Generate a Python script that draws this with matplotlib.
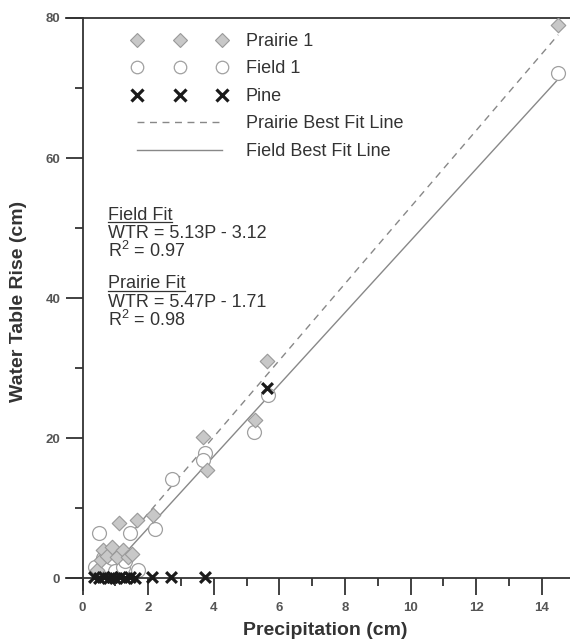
import numpy as np
import matplotlib
matplotlib.use("Agg")
import matplotlib.pyplot as plt
from matplotlib.lines import Line2D
from matplotlib.ticker import MultipleLocator

plt.rcParams['font.family'] = ['Liberation Sans', 'DejaVu Sans']
plt.rcParams['mathtext.fontset'] = 'custom'
plt.rcParams['mathtext.rm'] = 'Liberation Sans'

# Data (precipitation cm, water table rise cm)
prairie_p = [0.45, 0.55, 0.62, 0.75, 0.9, 1.05, 1.1, 1.23, 1.38, 1.5, 1.66, 2.15, 3.67, 3.79, 5.26, 5.62, 14.5]
prairie_w = [1.2, 2.6, 4.0, 3.2, 4.4, 3.0, 7.8, 4.0, 3.0, 3.5, 8.3, 9.0, 20.1, 15.4, 22.6, 31.0, 79.0]

field_p = [0.38, 0.5, 0.62, 0.75, 0.9, 1.0, 1.23, 1.3, 1.44, 1.69, 2.2, 2.72, 3.73, 3.68, 5.22, 5.65, 14.5]
field_w = [1.6, 6.4, 2.9, 1.8, 2.9, 1.0, 1.6, 2.5, 6.4, 1.2, 7.0, 14.2, 17.8, 16.9, 20.9, 26.2, 72.2]

pine_p = [0.35, 0.5, 0.65, 0.8, 0.9, 1.0, 1.15, 1.3, 1.45, 1.6, 2.12, 2.7, 3.73, 5.62]
pine_w = [0.1, 0.0, 0.1, 0.0, 0.1, 0.0, 0.1, 0.0, 0.1, 0.0, 0.1, 0.1, 0.2, 27.1]

# best fit lines
prairie_slope, prairie_int = 5.47, -1.71
field_slope, field_int = 5.13, -3.12
prairie_range = [1.35, 14.5]
field_range = [1.2, 14.5]

fig = plt.figure(figsize=(5.7, 6.42), dpi=100)
ax = fig.add_axes([0.116, 0.081, 0.884, 0.891])

axis_col = '#333333'
line_col = '#888888'
text_col = '#333333'

px = np.array(prairie_range)
ax.plot(px, prairie_slope * px + prairie_int, ls=(0, (5, 4)), color=line_col, lw=1.0, zorder=1)
fx = np.array(field_range)
ax.plot(fx, field_slope * fx + field_int, ls='-', color=line_col, lw=1.0, zorder=1)

ax.scatter(prairie_p, prairie_w, marker='D', s=55, facecolor='#c8c8c8', edgecolor='#999999', linewidth=0.8, zorder=3)
ax.scatter(field_p, field_w, marker='o', s=100, facecolor='white', edgecolor='#a0a0a0', linewidth=0.9, zorder=2)
ax.scatter(pine_p, pine_w, marker='x', s=60, color='#1a1a1a', linewidth=2.3, zorder=4)

ax.set_xlim(-0.5, 14.86)
ax.set_ylim(-1.7, 80)

ax.spines['left'].set_position(('data', 0))
ax.spines['bottom'].set_position(('data', 0))
ax.spines['right'].set_visible(False)
for s in ['left', 'bottom', 'top']:
    ax.spines[s].set_color(axis_col)
    ax.spines[s].set_linewidth(1.3)
ax.spines['left'].set_bounds(-1.7, 80)

ax.xaxis.set_major_locator(MultipleLocator(2))
ax.xaxis.set_minor_locator(MultipleLocator(1))
ax.yaxis.set_major_locator(MultipleLocator(20))
ax.yaxis.set_minor_locator(MultipleLocator(10))
ax.tick_params(which='major', direction='out', length=12, width=1.3, color=axis_col,
               labelsize=9.5, labelcolor='#555555', pad=4)
ax.tick_params(which='minor', direction='out', length=6, width=1.3, color=axis_col)
ax.tick_params(axis='x', which='major', pad=5)
for lab in ax.get_xticklabels() + ax.get_yticklabels():
    lab.set_fontweight('bold')

fig.text(0.57, 0.018, 'Precipitation (cm)', ha='center', va='center',
         fontsize=14, fontweight='bold', color=text_col)
fig.text(0.032, 0.53, 'Water Table Rise (cm)', ha='center', va='center', rotation=90,
         fontsize=14, fontweight='bold', color=text_col)

# legend
handles = [
    Line2D([], [], ls='none', marker='D', ms=7, mfc='#c8c8c8', mec='#999999', mew=0.8),
    Line2D([], [], ls='none', marker='o', ms=9, mfc='white', mec='#a0a0a0', mew=0.9),
    Line2D([], [], ls='none', marker='x', ms=8, color='#1a1a1a', mew=2.3),
    Line2D([], [], ls=(0, (5, 4)), color=line_col, lw=1.0),
    Line2D([], [], ls='-', color=line_col, lw=1.0),
]
labels = ['Prairie 1', 'Field 1', 'Pine', 'Prairie Best Fit Line', 'Field Best Fit Line']
ax.legend(handles, labels, loc='upper left', bbox_to_anchor=(132 / 570, 1 - 33 / 642),
          bbox_transform=fig.transFigure, frameon=False, numpoints=3,
          handlelength=5.3, handletextpad=1.0, labelspacing=0.58, fontsize=13,
          borderpad=0, borderaxespad=0, labelcolor=text_col)

# fit annotations (baseline positions)
txt_kw = dict(fontsize=13, color=text_col, va='baseline', ha='left')
tx = 0.77
t1 = ax.text(tx, 51.2, 'Field Fit', **txt_kw)
ax.text(tx, 48.6, 'WTR = 5.13P - 3.12', **txt_kw)
ax.text(tx, 45.9, 'R$^{2}$ = 0.97', **txt_kw)
t2 = ax.text(tx, 41.4, 'Prairie Fit', **txt_kw)
ax.text(tx, 38.7, 'WTR = 5.47P - 1.71', **txt_kw)
ax.text(tx, 36.0, 'R$^{2}$ = 0.98', **txt_kw)

# underline the two headings
fig.canvas.draw()
r = fig.canvas.get_renderer()
for t in (t1, t2):
    bb = t.get_window_extent(r)
    _, yb = ax.transData.transform((tx, t.get_position()[1]))
    yl = yb - 2.5
    fig.add_artist(Line2D([bb.x0, bb.x1], [yl, yl], transform=None, color=text_col, lw=0.9))

fig.savefig('out.png', dpi=100)
